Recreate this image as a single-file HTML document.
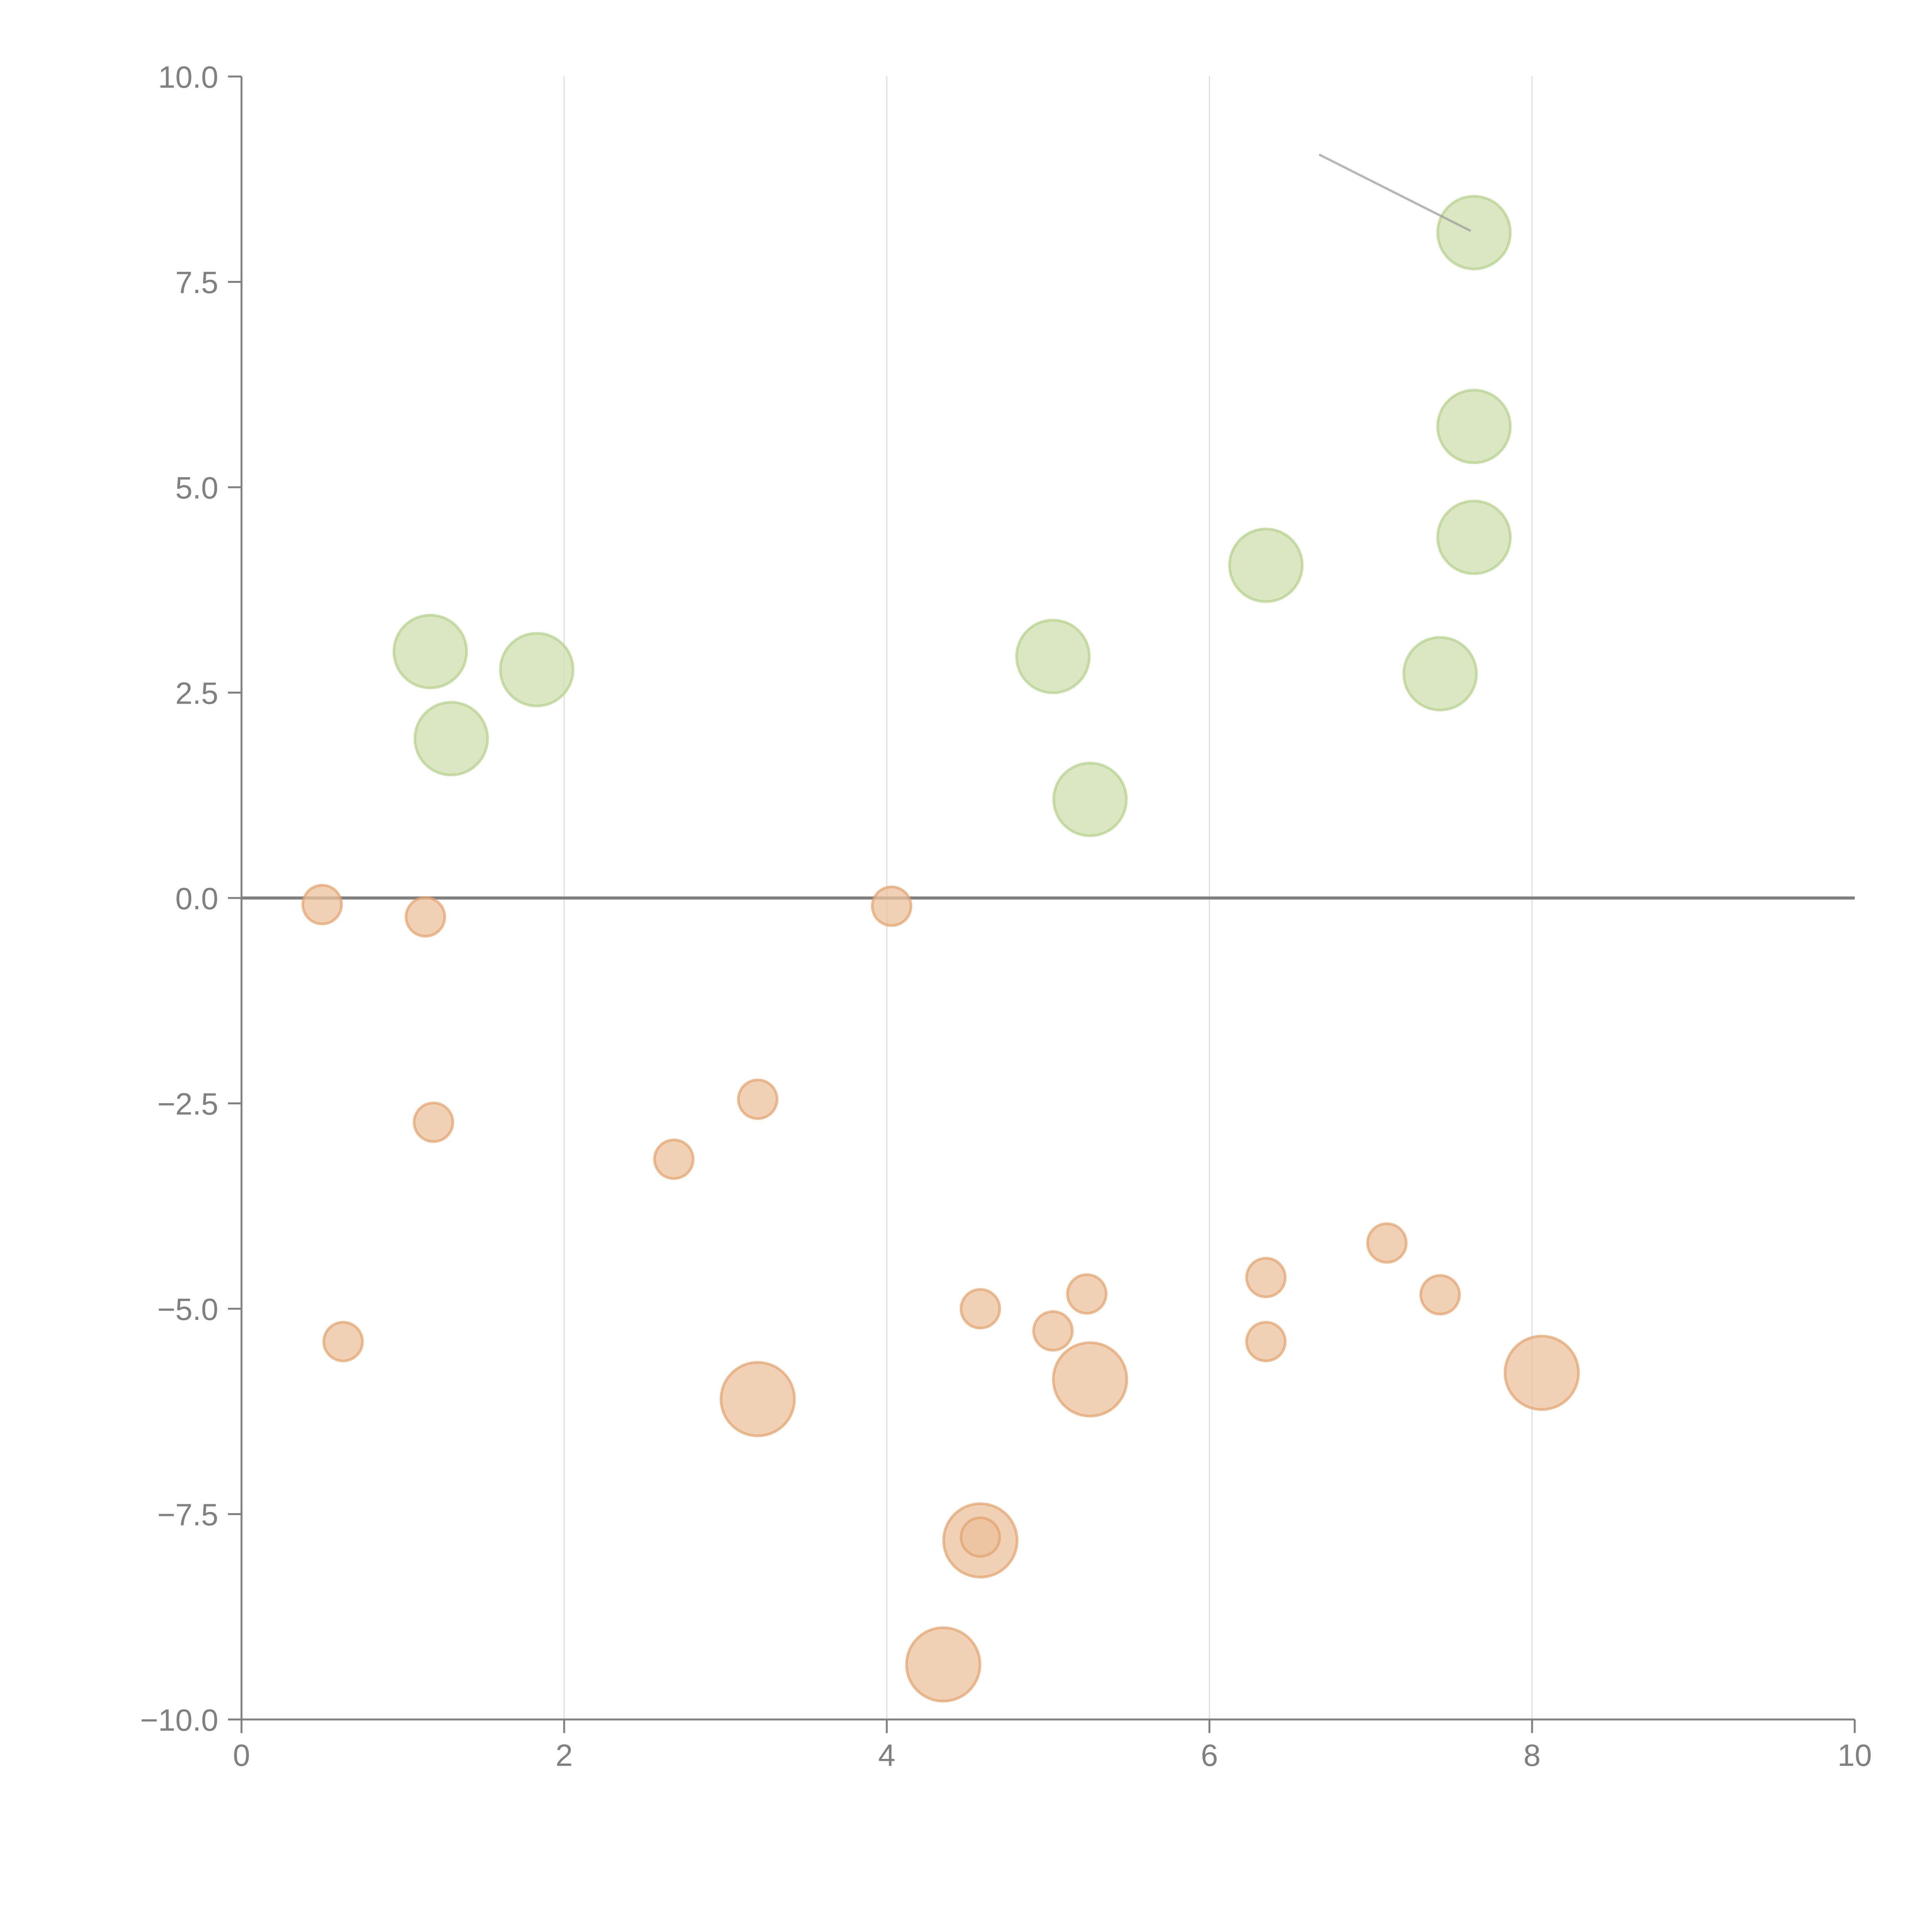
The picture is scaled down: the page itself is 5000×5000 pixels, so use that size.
<!DOCTYPE html>
<html><head><meta charset="utf-8"><style>
html,body{margin:0;padding:0;background:#fff}
svg{display:block}
text{font-family:"Liberation Sans",Arial,sans-serif;fill:#808080;font-size:80px}
</style></head><body>
<svg id="chart" width="5000" height="5000" viewBox="0 0 5000 5000" xmlns="http://www.w3.org/2000/svg">
<g id="grid"></g>
<g id="axes"></g>
<g id="marks"></g>
</svg>
<script>
const xTicks=[0,2,4,6,8,10];
const yTicks=[10,7.5,5,2.5,0,-2.5,-5,-7.5,-10];
const yTickLabels=["10.0","7.5","5.0","2.5","0.0","\u22122.5","\u22125.0","\u22127.5","\u221210.0"];
const greenX=[7.64,7.64,7.64,6.35,5.03,7.43,5.26,1.17,1.83,1.30];
const greenY=[8.1,5.74,4.39,4.05,2.94,2.73,1.2,3.0,2.78,1.94];
const orangeSmallX=[0.5,1.14,4.03,3.2,2.68,1.19,0.63,4.58,5.24,5.03,6.35,6.35,7.1,7.43,4.58];
const orangeSmallY=[-0.08,-0.23,-0.1,-2.45,-3.18,-2.73,-5.4,-5.0,-4.82,-5.27,-4.62,-5.4,-4.2,-4.83,-7.78];
const orangeBigX=[3.2,5.26,8.06,4.58,4.35];
const orangeBigY=[-6.1,-5.86,-5.78,-7.82,-9.33];
const X0=625,X1=4800,Y0=4450,Y1=198;
const sx=v=>X0+(v-0)/(10-0)*(X1-X0);
const sy=v=>Y0-(v+10)/20*(Y0-Y1);
const NS="http://www.w3.org/2000/svg";
function mk(p,t,a){const e=document.createElementNS(NS,t);for(const k in a)e.setAttribute(k,a[k]);p.appendChild(e);return e;}
const grid=document.getElementById('grid'),axes=document.getElementById('axes'),marks=document.getElementById('marks');
xTicks.forEach(t=>{
 if(t>0&&t<10){const g=mk(grid,'line',{x1:sx(t),x2:sx(t),y1:Y1,y2:Y0,stroke:'#dddddd','stroke-width':3});
 
 }
 const tk=mk(axes,'line',{x1:sx(t),x2:sx(t),y1:Y0,y2:Y0+35,stroke:'#808080','stroke-width':5});
 
 
 const tx=mk(axes,'text',{x:sx(t),y:Y0+120,'text-anchor':'middle'});tx.textContent=t;
 
 
});
yTicks.forEach((t,i)=>{
 const tk=mk(axes,'line',{x1:X0-35,x2:X0,y1:sy(t),y2:sy(t),stroke:'#808080','stroke-width':5});
 
 
 const tx=mk(axes,'text',{x:X0-60,y:sy(t)+29,'text-anchor':'end'});tx.textContent=yTickLabels[i];
 
 
});
let a=mk(axes,'line',{x1:X0,x2:X0,y1:Y1,y2:Y0,stroke:'#808080','stroke-width':5});


a=mk(axes,'line',{x1:X0,x2:X1,y1:Y0,y2:Y0,stroke:'#808080','stroke-width':5});


a=mk(axes,'line',{x1:X0,x2:X1,y1:sy(0),y2:sy(0),stroke:'#808080','stroke-width':8});


function bubble(x,y,r,fill,stroke,name){
 const c=mk(marks,'circle',{cx:sx(x),cy:sy(y),r:r,fill:fill,'fill-opacity':0.75,stroke:stroke,'stroke-opacity':0.7,'stroke-width':7});
 
 
}
greenX.forEach((x,i)=>bubble(x,greenY[i],94,'#cddfae','#b5d08a','green-bubble'));
orangeBigX.forEach((x,i)=>bubble(x,orangeBigY[i],95,'#ebc19c','#e3a26c','orange-large-bubble'));
orangeSmallX.forEach((x,i)=>bubble(x,orangeSmallY[i],50,'#ebc19c','#e3a26c','orange-small-bubble'));
const ld=mk(marks,'line',{x1:sx(6.68),y1:sy(9.05),x2:sx(7.62),y2:sy(8.12),stroke:'#999','stroke-opacity':0.7,'stroke-width':6});


</script>
</body></html>
